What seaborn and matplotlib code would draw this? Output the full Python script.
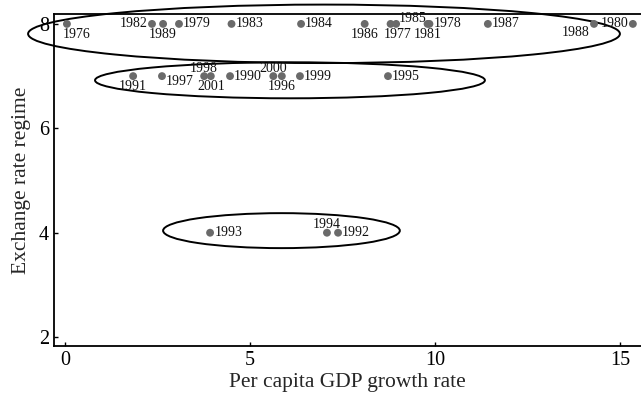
import matplotlib
matplotlib.use("Agg")
import matplotlib.pyplot as plt
from matplotlib.patches import Ellipse
import pandas as pd
import seaborn as sns

# Per capita GDP growth (%) and exchange rate regime by year
years = [1976, 1982, 1989, 1979, 1983, 1984, 1986, 1977, 1985, 1981, 1978, 1987, 1988, 1980,
         1991, 1997, 1998, 2001, 1990, 2000, 1996, 1999, 1995,
         1993, 1994, 1992]
growth = [0.05, 2.35, 2.65, 3.08, 4.5, 6.38, 8.1, 8.8, 8.95, 9.8, 9.85, 11.43, 14.3, 15.35,
          1.84, 2.62, 3.76, 3.94, 4.46, 5.63, 5.86, 6.35, 8.73,
          3.92, 7.08, 7.38]
regime = [8, 8, 8, 8, 8, 8, 8, 8, 8, 8, 8, 8, 8, 8,
          7, 7, 7, 7, 7, 7, 7, 7, 7,
          4, 4, 4]

x_ticks = [0, 5, 10, 15]
y_ticks = [2, 4, 6, 8]

df = pd.DataFrame({"year": years, "growth": growth, "regime": regime})

# where each year label sits relative to its point
placement = {
    1976: "below_right", 1982: "left", 1989: "below", 1979: "right", 1983: "right",
    1984: "right", 1986: "below", 1977: "below_shift", 1985: "above_right", 1981: "below",
    1978: "right", 1987: "right", 1988: "below_left", 1980: "left",
    1991: "below", 1997: "right_low", 1998: "above", 2001: "below", 1990: "right",
    2000: "above", 1996: "below", 1999: "right", 1995: "right",
    1993: "right", 1994: "above", 1992: "right",
}
offsets = {
    "right": ((3, 0), "left", "center"),
    "right_low": ((3, -4), "left", "center"),
    "left": ((-3, 0), "right", "center"),
    "below": ((0, -3), "center", "top"),
    "below_shift": ((5, -3), "center", "top"),
    "above": ((0, 1), "center", "bottom"),
    "below_right": ((-3, -3), "left", "top"),
    "above_right": ((2, 4), "left", "center"),
    "below_left": ((-3, -6), "right", "center"),
}

# regime clusters outlined by ellipses: (centre x, centre y, width, height)
clusters = [(7.0, 7.81, 16.0, 1.12), (6.08, 6.92, 10.54, 0.69), (5.85, 4.04, 6.4, 0.67)]

sns.set_style("ticks")
plt.rcParams["font.family"] = ["Liberation Serif", "DejaVu Serif"]

fig = plt.figure(figsize=(6.41, 3.94), dpi=100)
ax = fig.add_axes([0.0842, 0.1218, 1.0 - 0.0842, 0.9645 - 0.1218])

sns.scatterplot(data=df, x="growth", y="regime", ax=ax, color="#6a6a6a",
                s=32, edgecolor="none", legend=False, zorder=3)

for yr, gx, ry in zip(years, growth, regime):
    (dx, dy), ha, va = offsets[placement[yr]]
    ax.annotate(str(yr), (gx, ry), xytext=(dx, dy), textcoords="offset points",
                ha=ha, va=va, fontsize=10, color="#111111", zorder=4,
                annotation_clip=False)

for cx, cy, w, h in clusters:
    ax.add_patch(Ellipse((cx, cy), w, h, fill=False, edgecolor="black",
                         linewidth=1.4, clip_on=False, zorder=2))

ax.set_xlim(-0.3, 15.57)
ax.set_ylim(1.83, 8.19)
ax.set_xticks(x_ticks)
ax.set_yticks(y_ticks)
ax.tick_params(direction="in", length=3, width=1, labelsize=14.5, colors="black")
for side in ("left", "bottom", "top"):
    ax.spines[side].set_linewidth(1.3)
    ax.spines[side].set_color("black")
ax.spines["right"].set_visible(False)

ax.set_xlabel("Per capita GDP growth rate", fontsize=15.5, labelpad=2)
ax.set_ylabel("Exchange rate regime", fontsize=15.5, labelpad=6)

fig.savefig("out.png", dpi=100)
